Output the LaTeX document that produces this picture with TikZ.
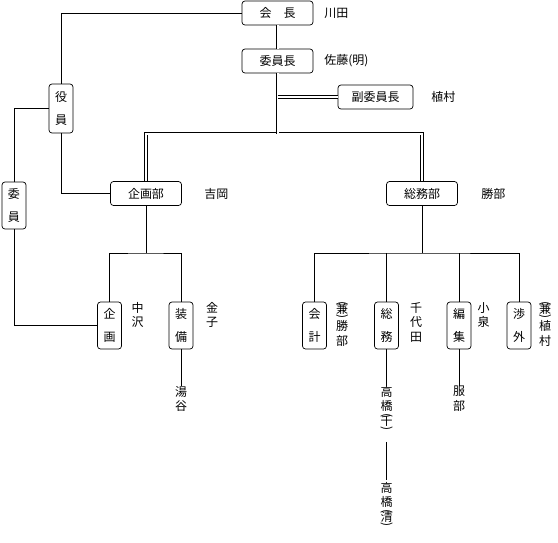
\documentclass[tikz,border=0pt]{standalone}
\usepackage{fontspec}
\setmainfont{Noto Sans CJK JP}
\usetikzlibrary{positioning}
\newcommand\kakkoU{\rotatebox[origin=c]{-90}{(}}
\newcommand\kakkoD{\rotatebox[origin=c]{-90}{)}}
\begin{document}
\begin{tikzpicture}[x=1pt, y=-1pt, line width=0.7pt,
  box/.style={draw, rounded corners=3pt, minimum width=71pt, minimum height=24pt, inner sep=1pt, font=\fontsize{12}{14}\selectfont},
  tbox/.style={draw, rounded corners=3pt, minimum width=24pt, minimum height=47pt, inner sep=1pt, align=center, font=\fontsize{12}{23}\selectfont},
  person/.style={inner sep=0pt, anchor=west, font=\fontsize{12}{14}\selectfont},
  tperson/.style={inner sep=0pt, anchor=north, align=center, font=\fontsize{12}{14.5}\selectfont},
  dbl/.style={double, double distance=2pt, line width=0.6pt}]
  \useasboundingbox (0, 0) rectangle (558, 542);
  % top
  \node[box] (kaicho) at (277.5, 13) {会　長};
  \node[box] (iincho) at (277.5, 61) {委員長};
  \node[box, minimum width=75pt] (fuku) at (375.5, 97) {副委員長};
  \node[person] (kawada) at (324, 13) {川田};
  \node[person] (sato) at (324, 61) {佐藤(明)};
  \node[person] (uemura) at (431, 97) {植村};
  % left
  \node[tbox, minimum height=49pt] (yakuin) at (61, 108.5) {役\\員};
  \node[tbox] (iin) at (14, 205.5) {委\\員};
  % departments
  \node[box] (kikakubu) at (146, 193.5) {企画部};
  \node[box] (somubu) at (422, 193.5) {総務部};
  \node[person] (yoshioka) at (204, 193.5) {吉岡};
  \node[person] (katsube) at (481, 193.5) {勝部};
  % sections
  \node[tbox] (kikaku) at (109.5, 325.5) {企\\画};
  \node[tbox] (sobi) at (181, 325.5) {装\\備};
  \node[tbox] (kaikei) at (314.5, 325.5) {会\\計};
  \node[tbox] (somu) at (386.5, 325.5) {総\\務};
  \node[tbox] (henshu) at (459, 325.5) {編\\集};
  \node[tbox] (shogai) at (519, 325.5) {渉\\外};
  \node[tperson] (nakazawa) at (137.5, 302) {中\\沢};
  \node[tperson] (kaneko) at (212, 302) {金\\子};
  \node[tperson] (yutani) at (181, 386) {湯\\谷};
  \node[tperson] (kenkatsube) at (342, 301)
    {\kakkoU\\[-8pt]兼\\[-8pt]\kakkoD\\[-4pt]勝\\部};
  \node[tperson] (chiyoda) at (416, 302) {千\\代\\田};
  \node[tperson] (koizumi) at (483.5, 302) {小\\泉};
  \node[tperson] (kenuemura) at (545, 301)
    {\kakkoU\\[-8pt]兼\\[-8pt]\kakkoD\\[-4pt]植\\村};
  \node[tperson] (hattori) at (459, 386) {服\\部};
  \node[tperson] (takahashic) at (386.5, 386)
    {高\\橋\\[-6pt]\kakkoU\\[-8pt]千\\[-8pt]\kakkoD};
  \node[tperson] (takahashik) at (386.5, 482)
    {高\\橋\\[-6pt]\kakkoU\\[-8pt]清\\[-8pt]\kakkoD};
  \coordinate (top) at (277.5, 133.5);
  \coordinate (kb) at (146, 253);
  \coordinate (sb) at (422, 253);
  % double lines
  \draw[dbl] (kikakubu.north) |- (top) -| (somubu.north);
  \draw[dbl] (kaicho) -- (iincho);
  \draw[dbl] (iincho.south) -- (top);
  \draw[dbl] (iincho.south |- fuku) -- (fuku.west);
  % single lines
  \draw (kaicho.west) -| (yakuin.north);
  \draw (yakuin.west) -| (iin.north);
  \draw (yakuin.south) |- (kikakubu.west);
  \draw (iin.south) |- (kikaku.west);
  \draw (kikakubu.south) -- (kb);
  \draw (kikaku.north) |- (kb) -| (sobi.north);
  \draw (sobi.south) -- (yutani.north);
  \draw (somubu.south) -- (sb);
  \draw (kaikei.north) |- (sb) -| (shogai.north);
  \draw (somu.north) -- (somu.north |- sb);
  \draw (henshu.north) -- (henshu.north |- sb);
  \draw (somu.south) -- (takahashic.north);
  \draw (henshu.south) -- (hattori.north);
  \draw[shorten <=9pt, shorten >=2pt] (takahashic.south) -- (takahashik.north);
\end{tikzpicture}
\end{document}
